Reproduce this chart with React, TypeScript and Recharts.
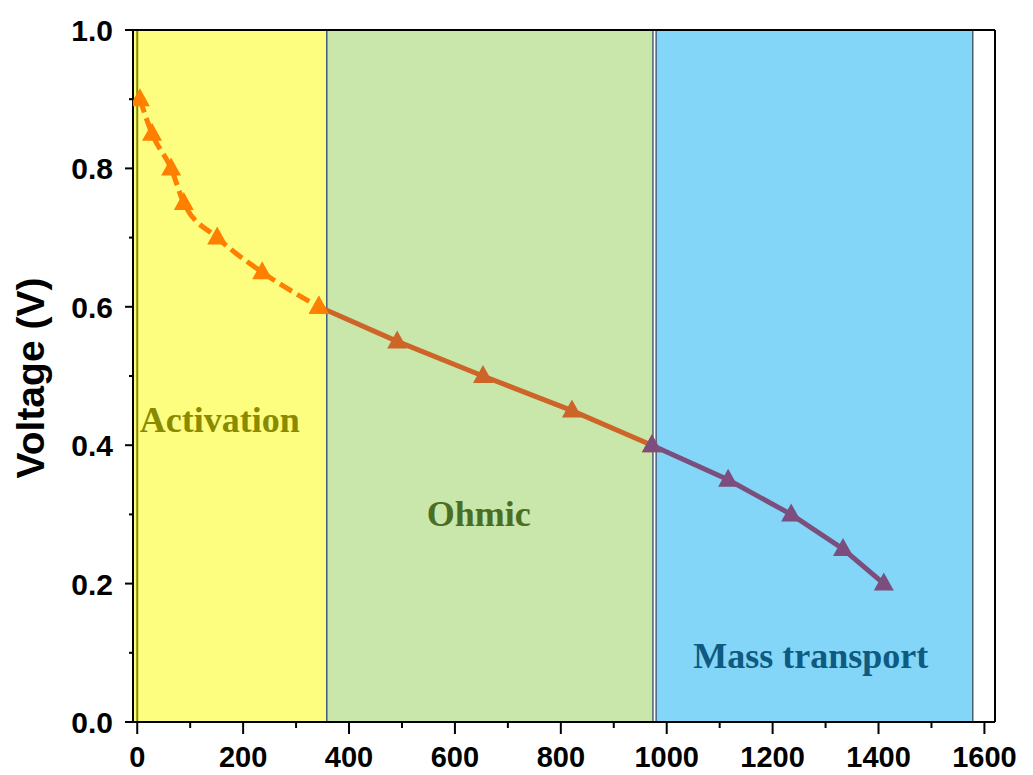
import { ComposedChart, Line, XAxis, YAxis, ReferenceArea, ReferenceLine, ReferenceDot } from 'recharts';

// polarization curve, split in the three loss regions
const activationCurrent = [5, 28, 64, 88, 151, 236, 343];
const activationVoltage = [0.9, 0.85, 0.8, 0.75, 0.7, 0.65, 0.6];
const ohmicCurrent = [343, 491, 653, 821, 972];
const ohmicVoltage = [0.6, 0.55, 0.5, 0.45, 0.4];
const massCurrent = [972, 1116, 1235, 1333, 1410];
const massVoltage = [0.4, 0.35, 0.3, 0.25, 0.2];

// region bounds (current density) and their labels
const regionNames = ['Activation', 'Ohmic', 'Mass transport'];
const regionStart = [-8, 358, 980];
const regionEnd = [358, 974, 1578];
const labelX = [156, 645, 1272];
const labelY = [0.419, 0.283, 0.078];

const xTicks = [0, 100, 200, 300, 400, 500, 600, 700, 800, 900, 1000, 1100, 1200, 1300, 1400, 1500, 1600];
const yTicks = [0, 0.1, 0.2, 0.3, 0.4, 0.5, 0.6, 0.7, 0.8, 0.9, 1.0];
const X_MIN = -8;
const X_MAX = 1620;

const toRows = (xs: number[], ys: number[]) => xs.map((x, i) => ({ i: x, v: ys[i] }));

const regionFill = ['#fdfd80', '#cae7ab', '#83d6f8'];
const regionText = ['#8a8a00', '#4b6e24', '#0f5a80'];

const triangle = (color: string) => (props: any) => {
  const { cx, cy, index } = props;
  if (cx == null || cy == null) return <g key={`t-${index}`} />;
  return (
    <polygon
      key={`t-${index}`}
      points={`${cx},${cy - 11} ${cx - 10},${cy + 7} ${cx + 10},${cy + 7}`}
      fill={color}
    />
  );
};

const XTick = (props: any) => {
  const { x, y, payload } = props;
  const major = payload.value % 200 === 0;
  return (
    <g>
      <line x1={x} y1={y} x2={x} y2={y + (major ? 12 : 6)} stroke="#000" strokeWidth={2} />
      {major && (
        <text x={x} y={y + 45} textAnchor="middle" fontSize={29} fontWeight="bold" fontFamily="Arial, 'Liberation Sans', sans-serif" fill="#000">
          {payload.value}
        </text>
      )}
    </g>
  );
};

const YTick = (props: any) => {
  const { x, y, payload } = props;
  const major = Math.round(payload.value * 10) % 2 === 0;
  return (
    <g>
      <line x1={x - (major ? 8 : 4)} y1={y} x2={x} y2={y} stroke="#000" strokeWidth={2} />
      {major && (
        <text x={x - 20} y={y + 11} textAnchor="end" fontSize={30} fontWeight="bold" fontFamily="Arial, 'Liberation Sans', sans-serif" fill="#000">
          {payload.value.toFixed(1)}
        </text>
      )}
    </g>
  );
};

export default function App() {
  return (
    <div style={{ position: 'absolute', left: 0, top: 0, background: '#fff' }}>
      <ComposedChart width={1033} height={775} margin={{ top: 30, right: 38, bottom: 0, left: 33 }}>
        <XAxis
          type="number"
          dataKey="i"
          domain={[X_MIN, X_MAX]}
          ticks={xTicks}
          interval={0}
          tick={<XTick />}
          tickLine={false}
          tickSize={0}
          tickMargin={0}
          height={53}
          axisLine={{ stroke: '#000', strokeWidth: 2 }}
          allowDataOverflow
        />
        <YAxis
          type="number"
          domain={[0, 1]}
          ticks={yTicks}
          interval={0}
          tick={<YTick />}
          tickLine={false}
          tickSize={0}
          tickMargin={0}
          width={100}
          axisLine={{ stroke: '#000', strokeWidth: 2 }}
          label={{
            content: () => (
              <text transform="translate(44,378) rotate(-90)" textAnchor="middle" fontSize={39} fontWeight="bold" fontFamily="Arial, 'Liberation Sans', sans-serif" fill="#000">
                Voltage (V)
              </text>
            ),
          }}
        />

        {regionNames.map((name, k) => (
          <ReferenceArea
            key={name}
            x1={regionStart[k]}
            x2={regionEnd[k]}
            y1={0}
            y2={1}
            fill={regionFill[k]}
            fillOpacity={1}
            stroke="#46607a"
            strokeWidth={1.5}
          />
        ))}
        <ReferenceLine x={0} stroke="#8a8a00" strokeWidth={2} />
        <ReferenceLine y={1} stroke="#000" strokeWidth={2} />
        <ReferenceLine x={X_MAX} stroke="#000" strokeWidth={2} />

        {regionNames.map((name, k) => (
          <ReferenceDot
            key={`lbl-${name}`}
            x={labelX[k]}
            y={labelY[k]}
            r={0}
            shape={(p: any) => (
              <text x={p.cx} y={p.cy} textAnchor="middle" fontSize={36} fontWeight="bold" fontFamily="'Liberation Serif', 'Times New Roman', serif" fill={regionText[k]}>
                {name}
              </text>
            )}
          />
        ))}

        <Line
          data={toRows(ohmicCurrent, ohmicVoltage)}
          dataKey="v"
          type="linear"
          stroke="#cd6528"
          strokeWidth={5}
          dot={triangle('#cd6528')}
          activeDot={false}
          isAnimationActive={false}
        />
        <Line
          data={toRows(activationCurrent, activationVoltage)}
          dataKey="v"
          type="monotone"
          stroke="#ff7f00"
          strokeWidth={5}
          strokeDasharray="14 6"
          dot={triangle('#ff7f00')}
          activeDot={false}
          isAnimationActive={false}
        />
        <Line
          data={toRows(massCurrent, massVoltage)}
          dataKey="v"
          type="linear"
          stroke="#7c4e7e"
          strokeWidth={5}
          dot={triangle('#7c4e7e')}
          activeDot={false}
          isAnimationActive={false}
        />
      </ComposedChart>
    </div>
  );
}
